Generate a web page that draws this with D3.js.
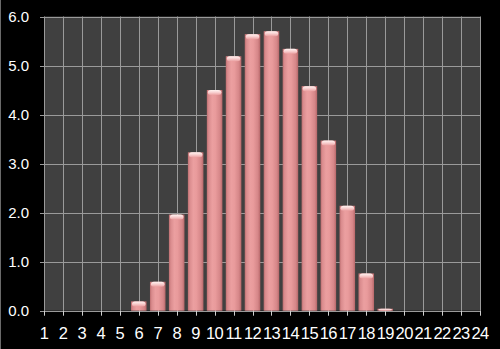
<!DOCTYPE html>
<html><head><meta charset="utf-8">
<script src="https://cdn.jsdelivr.net/npm/d3@7"></script>
<style>html,body{margin:0;padding:0;background:#000;}svg{display:block;}</style>
</head><body>
<script>
const categories = ["1","2","3","4","5","6","7","8","9","10","11","12","13","14","15","16","17","18","19","20","21","22","23","24"];
const values = [0,0,0,0,0,0.19,0.59,1.96,3.23,4.50,5.19,5.64,5.70,5.34,4.58,3.47,2.14,0.76,0.04,0,0,0,0,0];
const yTicks = [0,1,2,3,4,5,6];
const yTickLabels = ["0.0","1.0","2.0","3.0","4.0","5.0","6.0"];

const W = 500, H = 349;
const pL = 44, pR = 480, pT = 16.5, pB = 310.7;

const svg = d3.select("body").append("svg").attr("width", W).attr("height", H);
svg.append("rect").attr("width", W).attr("height", H).attr("fill", "#000");
svg.append("line").attr("x1",0.5).attr("x2",0.5).attr("y1",0).attr("y2",H).attr("stroke","#6a6a6a");

const x = d3.scalePoint().domain(categories).range([pL, pR]);
const y = d3.scaleLinear().domain([0, 6]).range([pB, pT]);
const step = x.step();
const bw = step * 0.82;

const defs = svg.append("defs");
const g1 = defs.append("linearGradient").attr("id","barGrad").attr("x1","0").attr("x2","1").attr("y1","0").attr("y2","0");
[[0,"#bd6e70"],[0.12,"#da8c8e"],[0.35,"#eb9fa0"],[0.55,"#e99b9c"],[0.85,"#d58688"],[1,"#b66769"]].forEach(([o,c])=>g1.append("stop").attr("offset",o).attr("stop-color",c));
const g2 = defs.append("linearGradient").attr("id","capGrad").attr("x1","0").attr("x2","0").attr("y1","0").attr("y2","1");
[[0,"#fff4f2"],[0.5,"#f8cfcf"],[1,"#eba0a1"]].forEach(([o,c])=>g2.append("stop").attr("offset",o).attr("stop-color",c));

svg.append("rect").attr("x", pL).attr("y", pT).attr("width", pR-pL).attr("height", pB-pT).attr("fill", "#404040");

// horizontal gridlines + y ticks
svg.append("g").selectAll("line").data(yTicks).join("line")
  .attr("x1", pL-4).attr("x2", pR)
  .attr("y1", d=>Math.round(y(d))+0.5).attr("y2", d=>Math.round(y(d))+0.5)
  .attr("stroke", "#9a9a9a").attr("stroke-width", 1);
// vertical gridlines
svg.append("g").selectAll("line").data(categories).join("line")
  .attr("x1", d=>Math.round(x(d))+0.5).attr("x2", d=>Math.round(x(d))+0.5)
  .attr("y1", pT).attr("y2", pB)
  .attr("stroke", "#9a9a9a").attr("stroke-width", 1);
// x ticks below axis
svg.append("g").selectAll("line").data(categories).join("line")
  .attr("x1", d=>Math.round(x(d))+0.5).attr("x2", d=>Math.round(x(d))+0.5)
  .attr("y1", pB).attr("y2", pB+5)
  .attr("stroke", "#cfcfcf").attr("stroke-width", 1);

// bars
const bars = svg.append("g").selectAll("g").data(categories.map((c,i)=>({c, v: values[i]})).filter(d=>d.v>0)).join("g");
bars.append("rect")
  .attr("x", d=>x(d.c)-bw/2).attr("width", bw)
  .attr("y", d=>y(d.v)).attr("height", d=>pB - y(d.v))
  .attr("fill", "url(#barGrad)");
bars.append("rect")
  .attr("x", d=>x(d.c)-bw/2+1).attr("width", bw-2)
  .attr("y", d=>y(d.v)).attr("height", d=>Math.min(5, pB - y(d.v)))
  .attr("rx", 3).attr("ry", 2.5)
  .attr("fill", "url(#capGrad)");

// labels
svg.append("g").selectAll("text").data(yTicks).join("text")
  .attr("x", 29).attr("y", d=>y(d)).attr("dy", "0.36em")
  .attr("text-anchor", "end").attr("fill", "#fff")
  .attr("font-family", "Liberation Sans, Arial, sans-serif").attr("font-size", 15)
  .text((d,i)=>yTickLabels[i]);
svg.append("g").selectAll("text").data(categories).join("text")
  .attr("x", d=>x(d)).attr("y", 338.5)
  .attr("text-anchor", "middle").attr("fill", "#fff")
  .attr("font-family", "Liberation Sans, Arial, sans-serif").attr("font-size", 16.5)
  .attr("letter-spacing", "-0.6")
  .text(d=>d);
</script>
</body></html>
